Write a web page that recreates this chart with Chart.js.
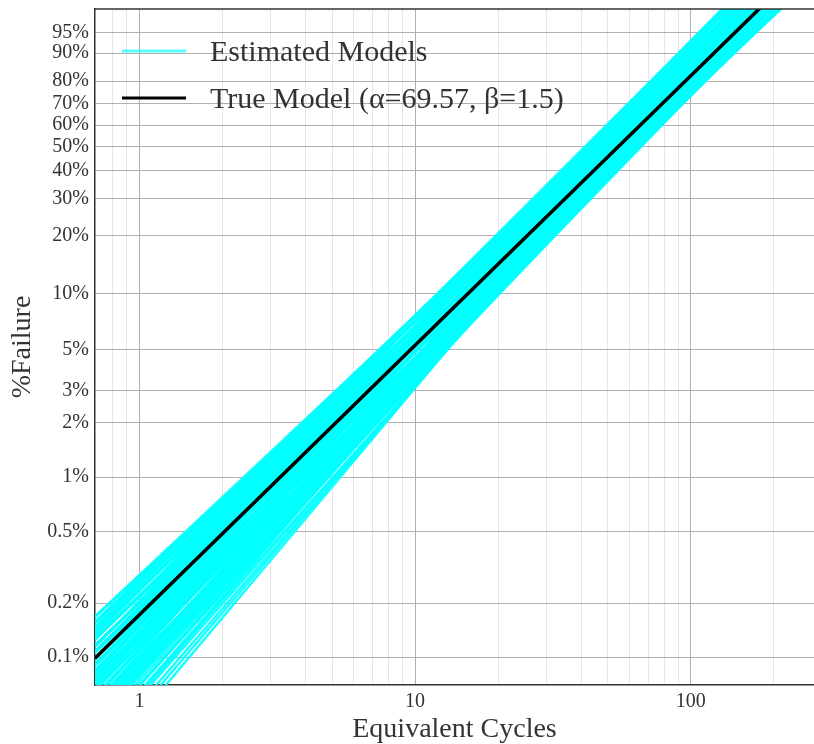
<!DOCTYPE html>
<html>
<head>
<meta charset="utf-8">
<title>Weibull probability plot</title>
<script src="https://cdn.jsdelivr.net/npm/chart.js@4.4.1/dist/chart.umd.min.js"></script>
<style>
  html, body { margin: 0; padding: 0; background: #fff; }
  #wrap { width: 814px; height: 744px; }
</style>
</head>
<body>
<div id="wrap"><canvas id="weibull" width="814" height="744"></canvas></div>
<script>
// axis limits
const xRange = [0.69, 280];            // equivalent cycles
const yRange = [0.0007, 0.9827];       // fraction failed

// grid lines on the log x axis, and which of them get a label
const xGrid = [0.8, 0.9, 1, 2, 3, 4, 5, 6, 7, 8, 9, 10, 20, 30, 40, 50, 60, 70, 80, 90, 100, 200];
const xLabels = [1, 10, 100];

// y ticks (% failure)
const yPercent = [0.1, 0.2, 0.5, 1, 2, 3, 5, 10, 20, 30, 40, 50, 60, 70, 80, 90, 95];
const yLabels = ["0.1%", "0.2%", "0.5%", "1%", "2%", "3%", "5%", "10%", "20%", "30%", "40%", "50%", "60%", "70%", "80%", "90%", "95%"];

// true model
const trueAlpha = 69.57;
const trueBeta = 1.5;

// estimated models (read off the cyan fan)
const estBeta = [
  1.38, 1.38,
  1.41, 1.41, 1.41, 1.41,
  1.44, 1.44, 1.44, 1.44, 1.44, 1.44,
  1.47, 1.47, 1.47, 1.47, 1.47, 1.47, 1.47, 1.47,
  1.50, 1.50, 1.50, 1.50, 1.50, 1.50, 1.50, 1.50, 1.50,
  1.53, 1.53, 1.53, 1.53, 1.53, 1.53, 1.53, 1.53, 1.53, 1.53,
  1.56, 1.56, 1.56, 1.56, 1.56, 1.56, 1.56, 1.56, 1.56, 1.56,
  1.59, 1.59, 1.59, 1.59, 1.59, 1.59, 1.59, 1.59, 1.59, 1.59,
  1.62, 1.62, 1.62, 1.62, 1.62, 1.62, 1.62, 1.62, 1.62,
  1.65, 1.65, 1.65, 1.65, 1.65, 1.65, 1.65,
  1.69, 1.69, 1.69, 1.69, 1.69, 1.69,
  1.71, 1.71,
  1.74, 1.74, 1.74, 1.74,
  1.77,
  1.80, 1.80,
  1.83
];
const estAlpha = [
  74.92, 70.70,
  77.88, 72.55, 67.58, 63.86,
  80.27, 74.89, 69.87, 65.18, 60.81, 58.33,
  81.52, 76.16, 72.13, 68.31, 64.69, 61.26, 58.02, 55.70,
  82.19, 77.40, 73.38, 69.57, 65.96, 62.53, 59.28, 56.20, 54.00,
  82.83, 78.61, 74.61, 70.80, 67.20, 63.77, 60.53, 57.44, 54.52, 52.42,
  82.92, 78.78, 74.84, 71.10, 67.54, 64.17, 60.96, 57.91, 55.02, 52.94,
  83.01, 80.44, 77.95, 73.20, 69.61, 66.19, 62.94, 59.85, 56.92, 54.12,
  81.07, 78.60, 76.21, 73.90, 71.65, 67.36, 63.33, 59.54, 55.97,
  76.41, 73.68, 71.05, 68.51, 66.07, 61.43, 57.12,
  73.69, 71.12, 68.64, 66.25, 61.71, 58.16,
  74.13, 69.92,
  71.41, 68.20, 65.52, 60.10,
  69.67,
  67.64, 61.20,
  66.10
];

const CYAN = "rgba(0,255,255,0.9)";
const CYAN_LEGEND = "rgba(0,255,255,0.65)";
const FONT = '"Liberation Serif", "Times New Roman", serif';

// Weibull paper: y = ln(-ln(1 - F))
const wb = f => Math.log(-Math.log(1 - f));
// a Weibull cdf is a straight line on that paper: y = beta * (ln t - ln alpha)
const wbLine = (alpha, beta) => xRange.map(t => ({ x: t, y: beta * (Math.log(t) - Math.log(alpha)) }));

const datasets = [{
  label: `True Model (α=${trueAlpha}, β=${trueBeta})`,
  data: wbLine(trueAlpha, trueBeta),
  borderColor: "#000",
  borderWidth: 3.5
}];
estAlpha.forEach((a, i) => {
  datasets.push({
    label: "Estimated Models",
    data: wbLine(a, estBeta[i]),
    borderColor: CYAN,
    borderWidth: 2.5
  });
});
datasets.forEach(d => {
  d.pointRadius = 0;
  d.fill = false;
  d.clip = 0;
});

// legend drawn inside the plot, top left, no frame
const insideLegend = {
  id: "insideLegend",
  afterDatasetsDraw(chart) {
    const { ctx, chartArea } = chart;
    const items = [
      { text: "Estimated Models", color: CYAN_LEGEND },
      { text: datasets[0].label, color: "#000" }
    ];
    ctx.save();
    ctx.font = "30px " + FONT;
    ctx.textBaseline = "middle";
    items.forEach((it, i) => {
      const y = chartArea.top + 42 + i * 47;
      ctx.strokeStyle = it.color;
      ctx.lineWidth = 3;
      ctx.beginPath();
      ctx.moveTo(chartArea.left + 27, y);
      ctx.lineTo(chartArea.left + 91, y);
      ctx.stroke();
      ctx.fillStyle = "#333";
      ctx.fillText(it.text, chartArea.left + 115, y + 2);
    });
    ctx.restore();
  }
};

// top frame line
const frame = {
  id: "frame",
  afterDraw(chart) {
    const { ctx, chartArea } = chart;
    ctx.save();
    ctx.strokeStyle = "#333";
    ctx.lineWidth = 1.5;
    ctx.beginPath();
    ctx.moveTo(chartArea.left, chartArea.top);
    ctx.lineTo(chartArea.right, chartArea.top);
    ctx.stroke();
    ctx.restore();
  }
};

new Chart(document.getElementById("weibull"), {
  type: "line",
  data: { datasets },
  plugins: [insideLegend, frame],
  options: {
    responsive: false,
    animation: false,
    events: [],
    layout: { padding: { top: 9, right: 0, bottom: 0, left: 0 } },
    plugins: { legend: { display: false }, tooltip: { enabled: false } },
    elements: { line: { tension: 0 } },
    scales: {
      x: {
        type: "logarithmic",
        min: xRange[0],
        max: xRange[1],
        afterBuildTicks: s => { s.ticks = xGrid.map(v => ({ value: v })); },
        afterFit: s => { s.height = 59; s.paddingLeft = 0; s.paddingRight = 0; },
        ticks: {
          autoSkip: false,
          maxRotation: 0,
          padding: 5,
          color: "#333",
          font: { family: FONT, size: 20 },
          callback: v => (xLabels.includes(v) ? String(v) : "")
        },
        grid: {
          drawTicks: false,
          lineWidth: 1,
          color: c => (xLabels.includes(c.tick.value) ? "#b0b0b0" : "#e6e6e6")
        },
        border: { display: true, color: "#333", width: 1.5 },
        title: {
          display: true,
          text: "Equivalent Cycles",
          color: "#333",
          padding: { top: 0, bottom: -2 },
          font: { family: FONT, size: 28 }
        }
      },
      y: {
        type: "linear",
        min: wb(yRange[0]),
        max: wb(yRange[1]),
        afterBuildTicks: s => { s.ticks = yPercent.map(p => ({ value: wb(p / 100) })); },
        afterFit: s => { s.width = 95; s.paddingTop = 0; s.paddingBottom = 0; },
        ticks: {
          autoSkip: false,
          padding: 6,
          color: "#333",
          font: { family: FONT, size: 20 },
          callback: (v, i) => yLabels[i]
        },
        grid: { drawTicks: false, lineWidth: 1, color: "#b0b0b0" },
        border: { display: true, color: "#333", width: 1.5 },
        title: {
          display: true,
          text: "%Failure",
          color: "#333",
          padding: { top: 6, bottom: 0 },
          font: { family: FONT, size: 28 }
        }
      }
    }
  }
});
</script>
</body>
</html>
